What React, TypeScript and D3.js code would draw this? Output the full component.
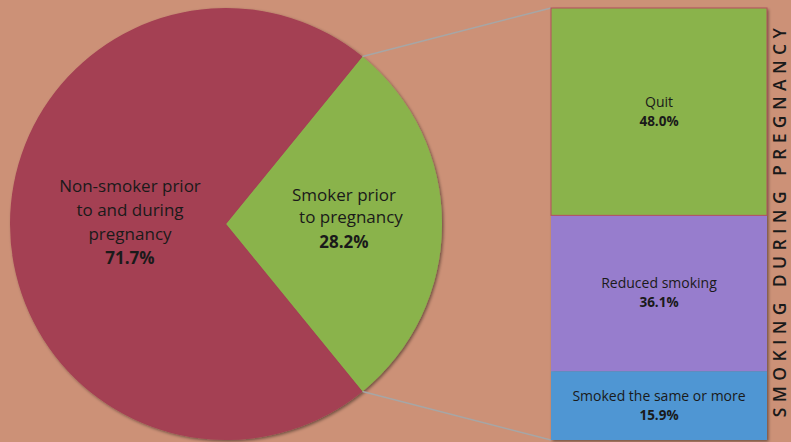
import React from "react";
import * as d3 from "d3";

const pieCategories = ["Smoker prior to pregnancy", "Non-smoker prior to and during pregnancy"];
const pieValues = [28.2, 71.7];
const pieLabelLines = [["Smoker prior", "to pregnancy"], ["Non-smoker prior", "to and during", "pregnancy"]];
const pieColors = ["#8AB34C", "#A43F53"];

const barCategories = ["Quit", "Reduced smoking", "Smoked the same or more"];
const barValues = [48.0, 36.1, 15.9];
const barColors = ["#8AB34C", "#977DCD", "#4F96D3"];

const title = "SMOKING DURING PREGNANCY";

const W = 791;
const H = 442;
const BG = "#CC9177";
const FONT = "'Open Sans', 'Liberation Sans', sans-serif";

export default function App() {
  React.useEffect(() => {
    document.body.style.margin = "0";
  }, []);

  const cx = 226, cy = 224, r = 216;
  const total = d3.sum(pieValues);
  const greenAngle = (2 * Math.PI * pieValues[0]) / total;
  const start = Math.PI / 2 - greenAngle / 2;
  const pie = d3.pie<number>().sort(null).value((d) => d).startAngle(start).endAngle(start + 2 * Math.PI);
  const arcs = pie(pieValues);
  const arc = d3.arc<d3.PieArcDatum<number>>().innerRadius(0).outerRadius(r);

  const barX0 = 551, barX1 = 767;
  const y = d3.scaleLinear().domain([0, d3.sum(barValues)]).range([8, 440]);
  let acc = 0;
  const bars = barValues.map((v, i) => {
    const y0 = y(acc);
    acc += v;
    const y1 = y(acc);
    return { v, i, y0, y1 };
  });

  const g = arcs[0];
  const p1 = [cx + r * Math.sin(g.startAngle), cy - r * Math.cos(g.startAngle)];
  const p2 = [cx + r * Math.sin(g.endAngle), cy - r * Math.cos(g.endAngle)];

  const pieLabelPos = [
    { xs: [344, 351], x: 344, y: 201, pctY: 248 },
    { xs: [130, 130, 130], x: 130, y: 192, pctY: 264 },
  ];
  const lineH = [22, 24];

  return (
    <div style={{ position: "absolute", left: 0, top: 0 }}>
      <svg width={W} height={H} style={{ display: "block" }}>
        <defs>
          <filter id="sh" x="-10%" y="-10%" width="120%" height="120%">
            <feDropShadow dx="1.5" dy="1.5" stdDeviation="1.5" floodColor="#000" floodOpacity="0.45" />
          </filter>
        </defs>
        <rect x={0} y={0} width={W} height={H} fill={BG} />
        <g filter="url(#sh)">
          {arcs.map((a, i) => (
            <path key={i} d={arc(a) || ""} transform={`translate(${cx},${cy})`} fill={pieColors[i]} />
          ))}
        </g>
        <line x1={p1[0]} y1={p1[1]} x2={barX0} y2={y(0)} stroke="#A6A6A6" strokeWidth={1.5} />
        <line x1={p2[0]} y1={p2[1]} x2={barX0} y2={y(d3.sum(barValues))} stroke="#A6A6A6" strokeWidth={1.5} />
        <g filter="url(#sh)">
          {bars.map((b) => (
            <rect key={b.i} x={barX0} y={b.y0} width={barX1 - barX0} height={b.y1 - b.y0} fill={barColors[b.i]} />
          ))}
        </g>
        <rect x={barX0} y={bars[0].y0} width={barX1 - barX0} height={bars[0].y1 - bars[0].y0} fill="none" stroke="#B5505E" strokeWidth={1} />
        {bars.map((b) => {
          const mid = (b.y0 + b.y1) / 2;
          return (
            <g key={"t" + b.i} fontFamily={FONT} fill="#1A1A1A" textAnchor="middle">
              <text x={(barX0 + barX1) / 2} y={mid - 5} fontSize={14}>{barCategories[b.i]}</text>
              <text x={(barX0 + barX1) / 2} y={mid + 14} fontSize={13.5} fontWeight="bold">
                {b.v.toFixed(1)}%
              </text>
            </g>
          );
        })}
        {pieLabelLines.map((lines, i) => (
          <g key={"pl" + i} fontFamily={FONT} fill="#1A1A1A" textAnchor="middle">
            {lines.map((l, j) => (
              <text key={j} x={pieLabelPos[i].xs[j]} y={pieLabelPos[i].y + j * lineH[i]} fontSize={17}>{l}</text>
            ))}
            <text x={pieLabelPos[i].x} y={pieLabelPos[i].pctY} fontSize={17} fontWeight="bold">
              {pieValues[i].toFixed(1)}%
            </text>
          </g>
        ))}
        <text
          transform={`translate(786,220) rotate(-90)`}
          textAnchor="middle"
          fontFamily={FONT}
          fontSize={17.5}
          fontWeight={600}
          letterSpacing={5.4}
          fill="#1A1A1A"
        >
          {title}
        </text>
      </svg>
    </div>
  );
}
